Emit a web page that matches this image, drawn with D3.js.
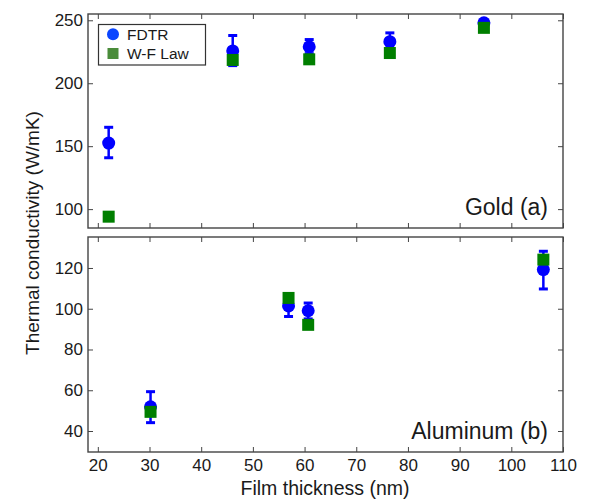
<!DOCTYPE html>
<html>
<head>
<meta charset="utf-8">
<script src="https://cdn.jsdelivr.net/npm/d3@7"></script>
<style>
  body { margin: 0; background: #fff; }
  text { font-family: "Liberation Sans", Arial, sans-serif; fill: #1a1a1a; }
</style>
</head>
<body>
<svg id="canvas"></svg>
<script>
// film thickness (nm)
let goldX = [22.1, 46.1, 60.9, 76.5, 94.7]
let goldFdtr = [152.5, 225.7, 229.0, 233.0, 248.0]
let goldFdtrLo = [140.8, 214.0, 223.5, 226.0, 246.0]
let goldFdtrHi = [165.0, 237.9, 234.7, 240.0, 250.0]
let goldWF = [94.0, 218.5, 219.0, 224.0, 244.0]

let alX = [30.2, 56.9, 60.7, 106.2]
let alFdtr = [51.9, 101.4, 99.0, 119.2]
let alFdtrLo = [44.1, 96.2, 95.0, 109.7]
let alFdtrHi = [59.3, 106.5, 102.8, 128.2]
let alWF = [49.4, 105.3, 92.1, 124.1]

let xTicks = [20, 30, 40, 50, 60, 70, 80, 90, 100, 110]
let goldTicks = [100, 150, 200, 250]
let alTicks = [40, 60, 80, 100, 120]

let width = 599
let height = 500
let left = 88
let right = 563

let svg = d3.select("#canvas")
    .attr("width", width)
    .attr("height", height)

let xScale = d3.scaleLinear()
    .domain([18.1, 110])
    .range([left, right])

let panels = [
    {top: 14, bottom: 228, domain: [85, 255], ticks: goldTicks, xs: goldX,
     fdtr: goldFdtr, lo: goldFdtrLo, hi: goldFdtrHi, wf: goldWF, label: "Gold (a)", xLabels: false},
    {top: 237, bottom: 452, domain: [29.7, 135.2], ticks: alTicks, xs: alX,
     fdtr: alFdtr, lo: alFdtrLo, hi: alFdtrHi, wf: alWF, label: "Aluminum (b)", xLabels: true}
]

let styleAxis = (g) => {
    g.select(".domain").remove()
    g.selectAll("line").attr("stroke", "#444").attr("stroke-width", 1)
    g.selectAll("text").style("font-size", "17px").attr("fill", "#1a1a1a")
}

let drawPanel = (p) => {
    let yScale = d3.scaleLinear()
        .domain(p.domain)
        .range([p.bottom, p.top])

    svg.append("g")
        .attr("transform", "translate(" + left + ",0)")
        .call(d3.axisLeft(yScale).tickValues(p.ticks).tickSize(-5).tickPadding(5))
        .call(styleAxis)

    svg.append("g")
        .attr("transform", "translate(" + right + ",0)")
        .call(d3.axisRight(yScale).tickValues(p.ticks).tickSize(-5).tickFormat(""))
        .call(styleAxis)

    svg.append("g")
        .attr("transform", "translate(0," + p.top + ")")
        .call(d3.axisTop(xScale).tickValues(xTicks).tickSize(-5).tickFormat(""))
        .call(styleAxis)

    let bottomAxis = d3.axisBottom(xScale).tickValues(xTicks).tickSize(-5).tickPadding(7)
    if (!p.xLabels) bottomAxis.tickFormat("")
    svg.append("g")
        .attr("transform", "translate(0," + p.bottom + ")")
        .call(bottomAxis)
        .call(styleAxis)

    svg.append("rect")
        .attr("x", left)
        .attr("y", p.top)
        .attr("width", right - left)
        .attr("height", p.bottom - p.top)
        .attr("fill", "none")
        .attr("stroke", "#444")
        .attr("stroke-width", 1.4)

    let idx = d3.range(p.xs.length)
    let g = svg.append("g")

    // error bars
    g.selectAll(".err")
        .data(idx)
        .enter()
        .append("line")
        .attr("x1", (i) => xScale(p.xs[i]))
        .attr("x2", (i) => xScale(p.xs[i]))
        .attr("y1", (i) => yScale(p.lo[i]))
        .attr("y2", (i) => yScale(p.hi[i]))
        .attr("stroke", "#0000ff")
        .attr("stroke-width", 2.5)

    let caps = idx.flatMap((i) => [[p.xs[i], p.lo[i]], [p.xs[i], p.hi[i]]])
    g.selectAll(".cap")
        .data(caps)
        .enter()
        .append("line")
        .attr("x1", (d) => xScale(d[0]) - 4.5)
        .attr("x2", (d) => xScale(d[0]) + 4.5)
        .attr("y1", (d) => yScale(d[1]))
        .attr("y2", (d) => yScale(d[1]))
        .attr("stroke", "#0000ff")
        .attr("stroke-width", 3)

    g.selectAll(".fdtr")
        .data(idx)
        .enter()
        .append("circle")
        .attr("cx", (i) => xScale(p.xs[i]))
        .attr("cy", (i) => yScale(p.fdtr[i]))
        .attr("r", 6.5)
        .attr("fill", "#0000ff")

    g.selectAll(".wf")
        .data(idx)
        .enter()
        .append("rect")
        .attr("x", (i) => xScale(p.xs[i]) - 6)
        .attr("y", (i) => yScale(p.wf[i]) - 6)
        .attr("width", 12)
        .attr("height", 12)
        .attr("fill", "#007f00")

    svg.append("text")
        .attr("x", right - 15)
        .attr("y", p.bottom - 13)
        .attr("text-anchor", "end")
        .style("font-size", "23px")
        .text(p.label)
}

panels.forEach(drawPanel)

// legend
let legend = svg.append("g")
legend.append("rect")
    .attr("x", 98.5)
    .attr("y", 24.5)
    .attr("width", 107)
    .attr("height", 40.5)
    .attr("fill", "#fff")
    .attr("stroke", "#333")
    .attr("stroke-width", 1.2)
legend.append("circle")
    .attr("cx", 113)
    .attr("cy", 34.3)
    .attr("r", 6)
    .attr("fill", "#0a45ff")
legend.append("rect")
    .attr("x", 107.5)
    .attr("y", 48)
    .attr("width", 11)
    .attr("height", 11)
    .attr("fill", "#4a8c3a")
legend.append("text")
    .attr("x", 127)
    .attr("y", 39.8)
    .style("font-size", "15.5px")
    .text("FDTR")
legend.append("text")
    .attr("x", 127)
    .attr("y", 58.5)
    .style("font-size", "15.5px")
    .text("W-F Law")

svg.append("text")
    .attr("transform", "translate(39,233) rotate(-90)")
    .attr("text-anchor", "middle")
    .style("font-size", "19px")
    .text("Thermal conductivity (W/mK)")

svg.append("text")
    .attr("x", 325)
    .attr("y", 495)
    .attr("text-anchor", "middle")
    .style("font-size", "19.5px")
    .text("Film thickness (nm)")
</script>
</body>
</html>
